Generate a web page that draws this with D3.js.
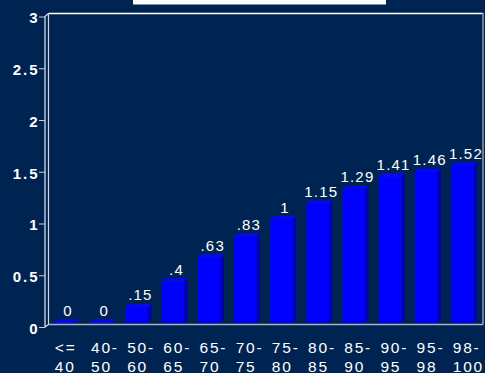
<!DOCTYPE html>
<html>
<head>
<meta charset="utf-8">
<script src="https://cdn.jsdelivr.net/npm/d3@7"></script>
<style>
  html, body { margin: 0; padding: 0; background: #002452; }
  svg { display: block; }
  text { font-family: "Liberation Sans", Arial, sans-serif; fill: #ffffff; }
</style>
</head>
<body>
<div id="chart"></div>
<script>
// categories, two lines each
var catTop = ["<=", "40-", "50-", "60-", "65-", "70-", "75-", "80-", "85-", "90-", "95-", "98-"];
var catBottom = ["40", "50", "60", "65", "70", "75", "80", "85", "90", "95", "98", "100"];
var values = [0, 0, 0.15, 0.4, 0.63, 0.83, 1, 1.15, 1.29, 1.41, 1.46, 1.52];
var yTicks = [0, 0.5, 1, 1.5, 2, 2.5, 3];

var W = 485, H = 373;
var depth = 3.5; // 3d offset of the frame / bars

var svg = d3.select("#chart").append("svg")
	.attr("width", W)
	.attr("height", H);

svg.append("rect").attr("width", W).attr("height", H).attr("fill", "#002452");

// title underline (title itself is clipped off the top)
svg.append("rect")
	.attr("x", 133).attr("y", 0)
	.attr("width", 253).attr("height", 4.5)
	.attr("fill", "#ffffff");

var x = d3.scaleBand()
	.domain(d3.range(values.length))
	.range([45, 482])
	.paddingInner(0.38)
	.paddingOuter(0.23);

var y = d3.scaleLinear()
	.domain([0, 3])
	.range([327, 16.5]);

// frame: back wall and floor
var frame = svg.append("g").attr("fill", "none");
var fx0 = 45, fy0 = y(0), fTop = y(3), fRight = 483;
frame.append("line") // back top
	.attr("x1", fx0 + depth).attr("x2", fRight)
	.attr("y1", fTop - depth + 0.5).attr("y2", fTop - depth + 0.5)
	.attr("stroke", "#ffffff").attr("stroke-width", 1.5);
frame.append("line") // back right
	.attr("x1", fRight).attr("x2", fRight)
	.attr("y1", fTop - depth).attr("y2", fy0 - depth + 1)
	.attr("stroke", "#8e9bb4").attr("stroke-width", 1.5);
frame.append("line") // floor back edge
	.attr("x1", fx0 + depth).attr("x2", fRight)
	.attr("y1", fy0 - depth + 1).attr("y2", fy0 - depth + 1)
	.attr("stroke", "#a9b1c2").attr("stroke-width", 1.5);
frame.append("line") // back left
	.attr("x1", fx0 + depth).attr("x2", fx0 + depth)
	.attr("y1", fTop - depth + 0.5).attr("y2", fy0 - depth + 1)
	.attr("stroke", "#d0d4dc").attr("stroke-width", 1.2);
frame.append("path") // front left edge with corners
	.attr("d", "M" + (fx0 + depth) + "," + (fTop - depth + 0.5) +
		"L" + fx0 + "," + fTop +
		"L" + fx0 + "," + fy0 +
		"L" + (fx0 + depth) + "," + (fy0 - depth + 1))
	.attr("stroke", "#d8dbe2").attr("stroke-width", 1.3);

// y axis ticks and labels
var yAxis = d3.axisLeft(y)
	.tickValues(yTicks)
	.tickSize(6)
	.tickPadding(2)
	.tickFormat(function(d) { return String(d); });

var gy = svg.append("g")
	.attr("transform", "translate(" + fx0 + ",0)")
	.call(yAxis);
gy.select(".domain").remove();
gy.selectAll(".tick line").attr("stroke", "#c8ccd6").attr("stroke-width", 1);
gy.selectAll(".tick text")
	.attr("fill", "#ffffff")
	.attr("x", -5.5)
	.attr("dy", "0.42em")
	.style("font-family", "'Liberation Sans', Arial, sans-serif")
	.style("font-size", "15px")
	.style("font-weight", "bold")
	.style("letter-spacing", "2px");

// bars
var floorY = fy0 - depth - 0.5;
var bars = svg.append("g").selectAll("g.bar")
	.data(values)
	.enter().append("g")
	.attr("class", "bar");

bars.each(function(v, i) {
	var g = d3.select(this);
	var x0 = x(i), bw = x.bandwidth();
	var top = y(v) - depth - 0.5;
	// side face
	g.append("path")
		.attr("d", "M" + (x0 + bw) + "," + top +
			"L" + (x0 + bw + depth) + "," + (top - depth) +
			"L" + (x0 + bw + depth) + "," + (floorY - depth) +
			"L" + (x0 + bw) + "," + floorY + "Z")
		.attr("fill", "#0000b4");
	// top face
	g.append("path")
		.attr("d", "M" + x0 + "," + top +
			"L" + (x0 + bw) + "," + top +
			"L" + (x0 + bw + depth) + "," + (top - depth) +
			"L" + (x0 + depth) + "," + (top - depth) + "Z")
		.attr("fill", "#0808f0");
	// front face
	g.append("rect")
		.attr("x", x0).attr("y", top)
		.attr("width", bw).attr("height", Math.max(0, floorY - top))
		.attr("fill", "#0000ff");
});

// value labels
svg.append("g").selectAll("text")
	.data(values)
	.enter().append("text")
	.attr("x", function(d, i) { return x(i) + x.bandwidth() / 2 + 3.5; })
	.attr("y", function(d) { return y(d) - 2 * depth - 4; })
	.attr("text-anchor", "middle")
	.style("font-size", "15px")
	.style("letter-spacing", "1.2px")
	.text(function(d) { return String(d).replace(/^0\./, "."); });

// category labels
var xl = svg.append("g").selectAll("text")
	.data(catTop)
	.enter().append("text")
	.attr("x", function(d, i) { return x(i) + 1.5; })
	.attr("y", 352.5)
	.style("font-size", "15.5px")
	.style("letter-spacing", "1.8px");
xl.append("tspan")
	.text(function(d) { return d; });
xl.append("tspan")
	.attr("x", function(d, i) { return x(i) + 1.5; })
	.attr("dy", 19)
	.text(function(d, i) { return catBottom[i]; });
</script>
</body>
</html>
